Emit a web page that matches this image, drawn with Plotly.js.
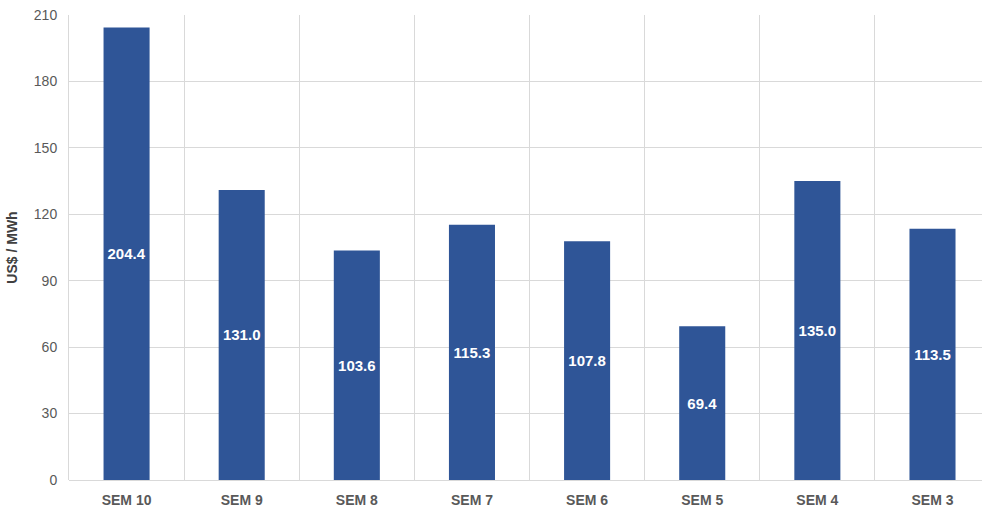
<!DOCTYPE html>
<html>
<head>
<meta charset="utf-8">
<script src="https://cdn.plot.ly/plotly-3.0.1.min.js"></script>
<style>html,body{margin:0;padding:0;background:#fff;}#chart{width:982px;height:514px;}</style>
</head>
<body>
<div id="chart"></div>
<script>
const categories = ["SEM 10","SEM 9","SEM 8","SEM 7","SEM 6","SEM 5","SEM 4","SEM 3"];
const values = [204.4, 131.0, 103.6, 115.3, 107.8, 69.4, 135.0, 113.5];
const yTicks = [0, 30, 60, 90, 120, 150, 180, 210];

const FONT = '"Liberation Sans Narrow", "Arial Narrow", "Liberation Sans", Arial, sans-serif';

const trace = {
  type: 'bar',
  x: categories,
  y: values,
  width: 0.4,
  marker: {color: '#2F5597'},
  text: values.map(v => v.toFixed(1)),
  textposition: 'inside',
  insidetextanchor: 'middle',
  textangle: 0,
  textfont: {family: FONT, size: 15, color: '#ffffff', weight: 'bold'},
  hoverinfo: 'x+y',
  cliponaxis: false
};

const layout = {
  width: 982,
  height: 514,
  margin: {l: 69, r: 0, t: 15, b: 34},
  paper_bgcolor: '#ffffff',
  plot_bgcolor: '#ffffff',
  showlegend: false,
  bargap: 0.6,
  font: {family: FONT, color: '#595959'},
  xaxis: {
    type: 'category',
    range: [-0.5, 7.43],
    tickson: 'boundaries',
    showgrid: true,
    gridcolor: '#d9d9d9',
    gridwidth: 1,
    ticks: '',
    showline: false,
    zeroline: false,
    ticklabelstandoff: 10,
    tickfont: {family: FONT, size: 14, color: '#595959', weight: 'bold'},
    fixedrange: true
  },
  yaxis: {
    range: [0, 210],
    tickvals: yTicks,
    ticktext: yTicks.map(String),
    showgrid: true,
    gridcolor: '#d9d9d9',
    gridwidth: 1,
    zeroline: true,
    zerolinecolor: '#d9d9d9',
    zerolinewidth: 1,
    showline: true,
    linecolor: '#d9d9d9',
    linewidth: 1,
    ticks: '',
    ticklen: 0,
    ticklabelstandoff: 8,
    tickfont: {family: '"Liberation Sans", Arial, sans-serif', size: 14, color: '#595959'},
    title: {text: 'US$ / MWh', standoff: 12, font: {family: FONT, size: 14, color: '#404040', weight: 'bold'}},
    fixedrange: true
  }
};

Plotly.newPlot('chart', [trace], layout, {displayModeBar: false, staticPlot: true});
</script>
</body>
</html>
